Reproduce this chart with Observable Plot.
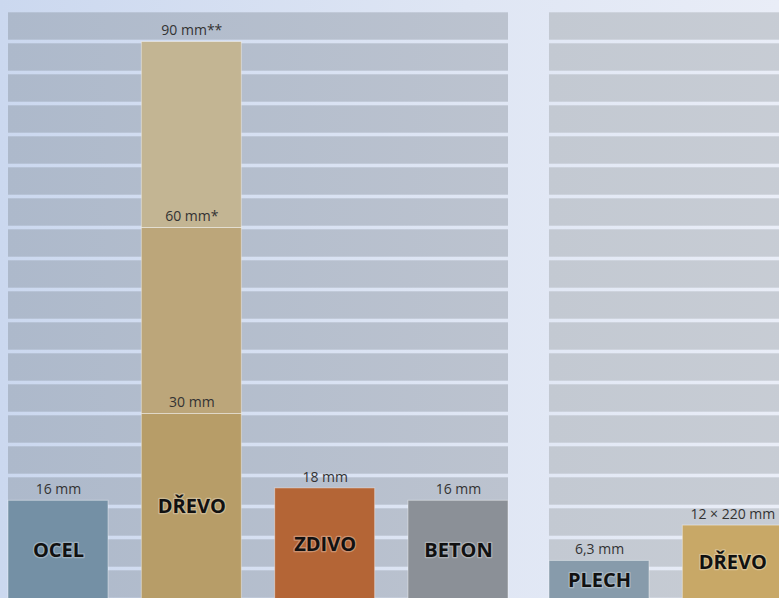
<!DOCTYPE html>
<html>
<head>
<meta charset="utf-8">
<script src="https://cdn.jsdelivr.net/npm/d3@7"></script>
<script src="https://cdn.jsdelivr.net/npm/@observablehq/plot@0.6"></script>
<style>
  html, body { margin: 0; padding: 0; }
  #wrap {
    width: 779px; height: 598px; overflow: hidden; position: relative;
    background: linear-gradient(to right, #cbd8ef 0%, #dfe6f4 60%, #e9edf7 100%);
  }
  #wrap svg { max-width: none !important; background: transparent !important; display: block; }
</style>
</head>
<body>
<div id="wrap"></div>
<script>
// ---- data ----
const leftCategories = ["OCEL", "DŘEVO", "ZDIVO", "BETON"];
const leftThickness = [16, 30, 18, 16];
const leftValueLabels = ["16 mm", "30 mm", "18 mm", "16 mm"];
const drevoLayers = [60, 90];
const drevoLayerLabels = ["60 mm*", "90 mm**"];
const rightCategories = ["PLECH", "DŘEVO"];
const rightThickness = [6.3, 12];
const rightValueLabels = ["6,3 mm", "12 × 220 mm"];
const gridLevels = [0, 5, 10, 15, 20, 25, 30, 35, 40, 45, 50, 55, 60, 65, 70, 75, 80, 85, 90];

// ---- styles (kept apart from data) ----
const segmentFills = ["#7490a5", "#b79d68", "#b46536", "#8b9097", "#bca67a", "#c3b593", "#879bab", "#c8a867"];

// ---- build tables ----
const segments = [];
leftCategories.forEach((c, i) => segments.push({panel: "L", slot: i, cat: c, y1: 0, y2: leftThickness[i], label: leftValueLabels[i]}));
let prev = leftThickness[1];
drevoLayers.forEach((v, j) => { segments.push({panel: "L", slot: 1, cat: null, y1: prev, y2: v, label: drevoLayerLabels[j]}); prev = v; });
rightCategories.forEach((c, i) => segments.push({panel: "R", slot: i, cat: c, y1: 0, y2: rightThickness[i], label: rightValueLabels[i]}));
segments.forEach((s, k) => s.fill = segmentFills[k]);

const catLabels = segments.filter(s => s.cat);
const stripes = [];
["L", "R"].forEach(p => gridLevels.forEach(g => stripes.push({panel: p, y1: g, y2: g + 5})));

const chart = Plot.plot({
  width: 1049, height: 598,
  marginLeft: 8, marginRight: 0, marginTop: 0, marginBottom: 0,
  fx: {domain: ["L", "R"], paddingInner: 41 / 541, paddingOuter: 0, axis: null, round: false},
  x: {domain: [0, 1, 2, 3], paddingInner: 0.25, paddingOuter: 0, axis: null, round: false},
  y: {domain: [0, 95], range: [599.5, 10.5], axis: null},
  marks: [
    Plot.rect(stripes.filter(d => d.panel === "L"), {fx: "panel", y1: "y1", y2: "y2", fill: "url(#gL)", insetTop: 1.8, insetBottom: 1.8}),
    Plot.rect(stripes.filter(d => d.panel === "R"), {fx: "panel", y1: "y1", y2: "y2", fill: "url(#gR)", insetTop: 1.8, insetBottom: 1.8}),
    Plot.barY(segments, {fx: "panel", x: "slot", y1: "y1", y2: "y2", fill: d => d.fill, stroke: "white", strokeOpacity: 0.4, strokeWidth: 1}),
    Plot.text(segments, {fx: "panel", x: "slot", y: "y2", text: "label", dy: -11, fontSize: 14, fill: "#333",
      fontFamily: "'Open Sans', sans-serif"}),
    Plot.text(catLabels, {fx: "panel", x: "slot", y: d => d.y2 / 2, text: "cat", fontSize: 20, fontWeight: "bold", fill: "#111",
      stroke: "white", strokeOpacity: 0.3, strokeWidth: 2.5, fontFamily: "'Open Sans', sans-serif"})
  ]
});

d3.select(chart).insert("defs", ":first-child").html(`
  <linearGradient id="gL" x1="0" x2="1" y1="0" y2="0">
    <stop offset="0" stop-color="#adb9cb"/><stop offset="1" stop-color="#bcc3cf"/>
  </linearGradient>
  <linearGradient id="gR" x1="0" x2="1" y1="0" y2="0">
    <stop offset="0" stop-color="#c3c9d2"/><stop offset="1" stop-color="#ccd0d7"/>
  </linearGradient>`);

document.getElementById("wrap").appendChild(chart);
</script>
</body>
</html>
